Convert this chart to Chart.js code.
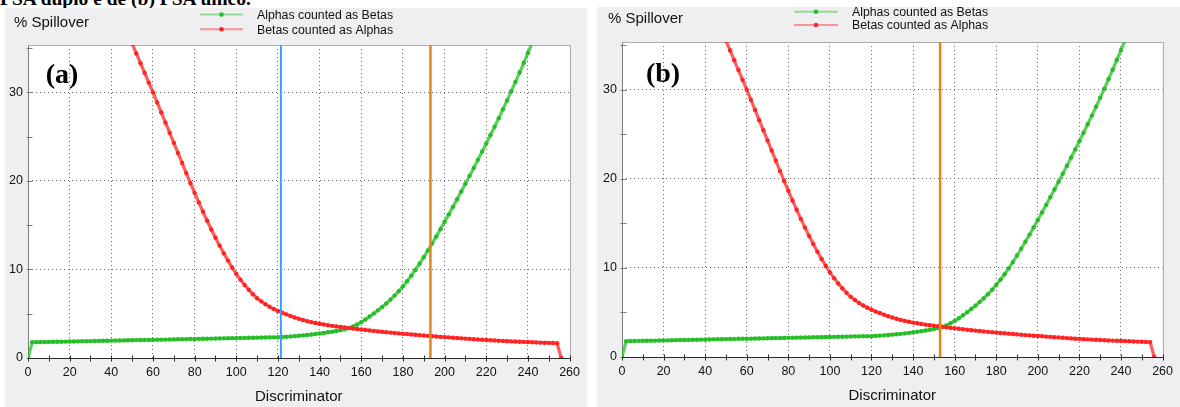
<!DOCTYPE html>
<html>
<head>
<meta charset="utf-8">
<title>% Spillover vs Discriminator</title>
<script src="https://cdn.jsdelivr.net/npm/chart.js@4.4.0/dist/chart.umd.min.js"></script>
<style>
  html, body { margin: 0; padding: 0; background: #fff; }
  body { width: 1180px; height: 407px; position: relative; overflow: hidden; }
  .caption { position: absolute; left: 0; top: -11.5px; font: bold 19.5px "Liberation Serif", "Times New Roman", serif; line-height: 1; color: #000; white-space: nowrap; }
  .panel { position: absolute; background: #efeff2; }
  #panelA { left: 5px; top: 8px; width: 582px; height: 399px; }
  #panelB { left: 597px; top: 7px; width: 583px; height: 400px; }
  .panel canvas { position: absolute; left: 0; top: 0; }
</style>
</head>
<body>
<div class="caption">PSA duplo e de (b) PSA único.</div>
<div class="panel" id="panelA"><canvas id="chartA" width="582" height="399"></canvas></div>
<div class="panel" id="panelB"><canvas id="chartB" width="583" height="400"></canvas></div>
<script>
// discriminator channel (every second channel)
const discriminator = [
  0, 2, 4, 6, 8, 10, 12, 14, 16, 18,
  20, 22, 24, 26, 28, 30, 32, 34, 36, 38,
  40, 42, 44, 46, 48, 50, 52, 54, 56, 58,
  60, 62, 64, 66, 68, 70, 72, 74, 76, 78,
  80, 82, 84, 86, 88, 90, 92, 94, 96, 98,
  100, 102, 104, 106, 108, 110, 112, 114, 116, 118,
  120, 122, 124, 126, 128, 130, 132, 134, 136, 138,
  140, 142, 144, 146, 148, 150, 152, 154, 156, 158,
  160, 162, 164, 166, 168, 170, 172, 174, 176, 178,
  180, 182, 184, 186, 188, 190, 192, 194, 196, 198,
  200, 202, 204, 206, 208, 210, 212, 214, 216, 218,
  220, 222, 224, 226, 228, 230, 232, 234, 236, 238,
  240, 242, 244, 246, 248, 250, 252, 254, 256
]

// % spillover, alphas counted as betas
const alphasAsBetas = [
  0, 1.78, 1.79, 1.8, 1.81, 1.82, 1.83, 1.83, 1.84, 1.85,
  1.86, 1.87, 1.88, 1.89, 1.9, 1.91, 1.92, 1.93, 1.94, 1.95,
  1.96, 1.97, 1.98, 1.99, 2.0, 2.01, 2.02, 2.03, 2.04, 2.04,
  2.05, 2.06, 2.07, 2.08, 2.09, 2.1, 2.11, 2.12, 2.13, 2.14,
  2.15, 2.16, 2.17, 2.18, 2.19, 2.2, 2.21, 2.22, 2.23, 2.24,
  2.25, 2.26, 2.27, 2.28, 2.29, 2.3, 2.31, 2.32, 2.33, 2.33,
  2.34, 2.37, 2.4, 2.43, 2.47, 2.51, 2.55, 2.6, 2.65, 2.71,
  2.77, 2.83, 2.9, 2.97, 3.05, 3.14, 3.24, 3.37, 3.55, 3.78,
  4.05, 4.35, 4.68, 5.02, 5.38, 5.76, 6.16, 6.59, 7.05, 7.55,
  8.09, 8.67, 9.29, 9.95, 10.65, 11.39, 12.15, 12.93, 13.73, 14.55,
  15.38, 16.22, 17.07, 17.93, 18.8, 19.68, 20.57, 21.47, 22.38, 23.3,
  24.23, 25.17, 26.12, 27.09, 28.08, 29.09, 30.12, 31.17, 32.24, 33.33,
  34.44, 35.57, 36.72, 37.89, null, null, null, null, null
]

// % spillover, betas counted as alphas
const betasAsAlphas = [
  null, null, null, null, null, null, null, null, null, null,
  null, null, null, null, null, null, null, null, null, null,
  null, null, null, 37.7, 36.6, 35.5, 34.4, 33.3, 32.2, 31.1,
  30.0, 28.86, 27.72, 26.58, 25.44, 24.3, 23.16, 22.02, 20.88, 19.75,
  18.65, 17.57, 16.52, 15.5, 14.52, 13.58, 12.68, 11.82, 11.0, 10.22,
  9.5, 8.85, 8.25, 7.7, 7.2, 6.75, 6.4, 6.07, 5.78, 5.53,
  5.31, 5.11, 4.93, 4.75, 4.58, 4.43, 4.29, 4.16, 4.05, 3.95,
  3.86, 3.78, 3.7, 3.63, 3.57, 3.51, 3.45, 3.39, 3.33, 3.27,
  3.22, 3.17, 3.11, 3.06, 3.01, 2.96, 2.91, 2.87, 2.82, 2.78,
  2.74, 2.7, 2.66, 2.62, 2.58, 2.54, 2.5, 2.46, 2.43, 2.39,
  2.36, 2.33, 2.29, 2.26, 2.22, 2.19, 2.16, 2.12, 2.09, 2.06,
  2.03, 2.0, 1.98, 1.95, 1.93, 1.9, 1.88, 1.86, 1.84, 1.82,
  1.8, 1.78, 1.76, 1.74, 1.73, 1.71, 1.69, 1.67, 0
]

const seriesLabels = ['Alphas counted as Betas', 'Betas counted as Alphas']
const xTickLabels = [0, 20, 40, 60, 80, 100, 120, 140, 160, 180, 200, 220, 240, 260]
const yTickLabels = [0, 10, 20, 30]

// vertical discriminator settings marked on each panel
const markersA = [121.4, 193.2]
const markersB = [153]

const X_MAX = 260
const Y_MAX = 35.35
const SANS = '"Liberation Sans", Arial, sans-serif'

Chart.defaults.font.family = SANS

const GREEN = 'rgb(38,190,38)'
const GREEN_LINE = 'rgba(38,190,38,0.75)'
const RED = 'rgb(255,36,36)'
const RED_LINE = 'rgba(255,36,36,0.75)'
const BLUE = '#3f9cff'
const ORANGE = '#e2861c'

const panelDeco = {
  id: 'panelDeco',
  beforeDraw(chart) {
    const { ctx, chartArea: a } = chart
    ctx.save()
    ctx.fillStyle = '#ffffff'
    ctx.fillRect(a.left, a.top, a.right - a.left, a.bottom - a.top)
    ctx.restore()
  },
  beforeDatasetsDraw(chart) {
    const { ctx, chartArea: a, scales } = chart
    const L = Math.round(a.left) + 0.5
    const R = Math.round(a.right) + 0.5
    const T = Math.round(a.top) + 0.5
    const B = Math.round(a.bottom) + 0.5
    ctx.save()
    ctx.lineWidth = 1
    ctx.strokeStyle = '#acacac'
    ctx.beginPath()
    ctx.moveTo(L, T)
    ctx.lineTo(R, T)
    ctx.lineTo(R, B)
    ctx.stroke()
    ctx.strokeStyle = '#7c7c7c'
    ctx.beginPath()
    ctx.moveTo(L, T)
    ctx.lineTo(L, B)
    scales.y.ticks.forEach(t => {
      const py = Math.round(scales.y.getPixelForValue(t.value)) + 0.5
      ctx.moveTo(L - 2, py)
      ctx.lineTo(L + 4, py)
    })
    ctx.stroke()
    ctx.strokeStyle = '#2a2a2a'
    ctx.beginPath()
    ctx.moveTo(L, B)
    ctx.lineTo(R, B)
    scales.x.ticks.forEach(t => {
      const px = Math.round(scales.x.getPixelForValue(t.value)) + 0.5
      ctx.moveTo(px, B - 3)
      ctx.lineTo(px, B + 3)
    })
    ctx.stroke()
    ctx.restore()
  },
  afterDraw(chart, args, opts) {
    const { ctx } = chart
    const ds = chart.data.datasets
    ctx.save()
    ctx.fillStyle = '#111'
    ctx.textBaseline = 'middle'
    ctx.font = '15px ' + SANS
    ctx.fillText('% Spillover', opts.titleX, opts.titleY)

    ctx.font = '12.3px ' + SANS
    for (let i = 0; i < 2; i++) {
      const y = opts.legendY[i]
      ctx.strokeStyle = ds[i].legendLine
      ctx.lineWidth = 2
      ctx.beginPath()
      ctx.moveTo(opts.legendX1, y)
      ctx.lineTo(opts.legendX2, y)
      ctx.stroke()
      ctx.fillStyle = ds[i].pointBackgroundColor
      ctx.beginPath()
      ctx.arc((opts.legendX1 + opts.legendX2) / 2, y, 2.3, 0, Math.PI * 2)
      ctx.fill()
      ctx.fillStyle = '#111'
      ctx.fillText(ds[i].label, opts.legendTextX, y + 1)
    }

    ctx.font = 'bold 28px "Liberation Serif", "Times New Roman", serif'
    ctx.fillStyle = '#000'
    ctx.textAlign = 'center'
    ctx.fillText(opts.tag, opts.tagX, opts.tagY)
    ctx.restore()
  }
}

const gridColor = (labels, lo, hi) => c => {
  const v = c.tick.value
  return labels.includes(v) && v > lo && v < hi ? '#6a6a6a' : 'rgba(0,0,0,0)'
}

function buildPanel(canvasId, g) {
  const toPoints = vals => discriminator.map((x, i) => ({ x: x, y: vals[i] }))

  const datasets = g.markers.map((m, i) => ({
    label: 'marker',
    data: [{ x: m, y: 0 }, { x: m, y: Y_MAX }],
    borderColor: g.markerColors[i],
    borderWidth: g.markerColors[i] === ORANGE ? 2.5 : 2,
    pointRadius: 0,
    order: 0
  }))

  datasets.unshift(
    {
      label: seriesLabels[0],
      data: toPoints(alphasAsBetas),
      borderColor: GREEN_LINE,
      legendLine: 'rgba(38,190,38,0.45)',
      pointBackgroundColor: GREEN,
      borderWidth: 3.2,
      pointRadius: 2.2,
      pointBorderWidth: 0,
      order: 2
    },
    {
      label: seriesLabels[1],
      data: toPoints(betasAsAlphas),
      borderColor: RED_LINE,
      legendLine: 'rgba(255,36,36,0.45)',
      pointBackgroundColor: RED,
      borderWidth: 3.2,
      pointRadius: 2.2,
      pointBorderWidth: 0,
      order: 1
    }
  )

  return new Chart(document.getElementById(canvasId), {
    type: 'line',
    data: { datasets },
    options: {
      responsive: false,
      animation: false,
      events: [],
      layout: { padding: { left: 0, top: g.top, right: g.right, bottom: 0 } },
      elements: { line: { tension: 0 } },
      plugins: {
        legend: { display: false },
        tooltip: { enabled: false },
        panelDeco: g.deco
      },
      scales: {
        x: {
          type: 'linear',
          min: 0,
          max: X_MAX,
          afterFit: s => { s.height = g.xHeight },
          ticks: {
            stepSize: 10,
            autoSkip: false,
            maxRotation: 0,
            padding: 7,
            color: '#111',
            font: { size: 12.5 },
            callback: v => xTickLabels.includes(v) ? String(v) : ''
          },
          grid: { drawTicks: false, lineWidth: 1, color: gridColor(xTickLabels, 0, X_MAX) },
          border: { display: false, dash: [1, 3] },
          title: {
            display: true,
            text: 'Discriminator',
            color: '#111',
            font: { size: 15 },
            padding: { top: 0, bottom: g.titlePad }
          }
        },
        y: {
          min: 0,
          max: Y_MAX,
          afterFit: s => { s.width = g.yWidth },
          ticks: {
            stepSize: 5,
            includeBounds: false,
            padding: 5,
            color: '#111',
            font: { size: 12.5 },
            callback: v => yTickLabels.includes(v) ? String(v) : ''
          },
          grid: { drawTicks: false, lineWidth: 1, color: gridColor(yTickLabels, 0, 40) },
          border: { display: false, dash: [1, 3] }
        }
      }
    },
    plugins: [panelDeco]
  })
}

buildPanel('chartA', {
  markers: markersA,
  markerColors: [BLUE, ORANGE],
  top: 37, right: 14, yWidth: 23, xHeight: 49, titlePad: 1.5,
  deco: {
    titleX: 9, titleY: 14.5,
    legendX1: 195, legendX2: 238, legendY: [6.5, 21.3], legendTextX: 252,
    tag: '(a)', tagX: 57, tagY: 68
  }
})

buildPanel('chartB', {
  markers: markersB,
  markerColors: [ORANGE],
  top: 35, right: 11, yWidth: 25, xHeight: 50, titlePad: 2.5,
  deco: {
    titleX: 11, titleY: 12,
    legendX1: 197, legendX2: 241, legendY: [4.7, 18], legendTextX: 255,
    tag: '(b)', tagX: 66, tagY: 68
  }
})
</script>
</body>
</html>
